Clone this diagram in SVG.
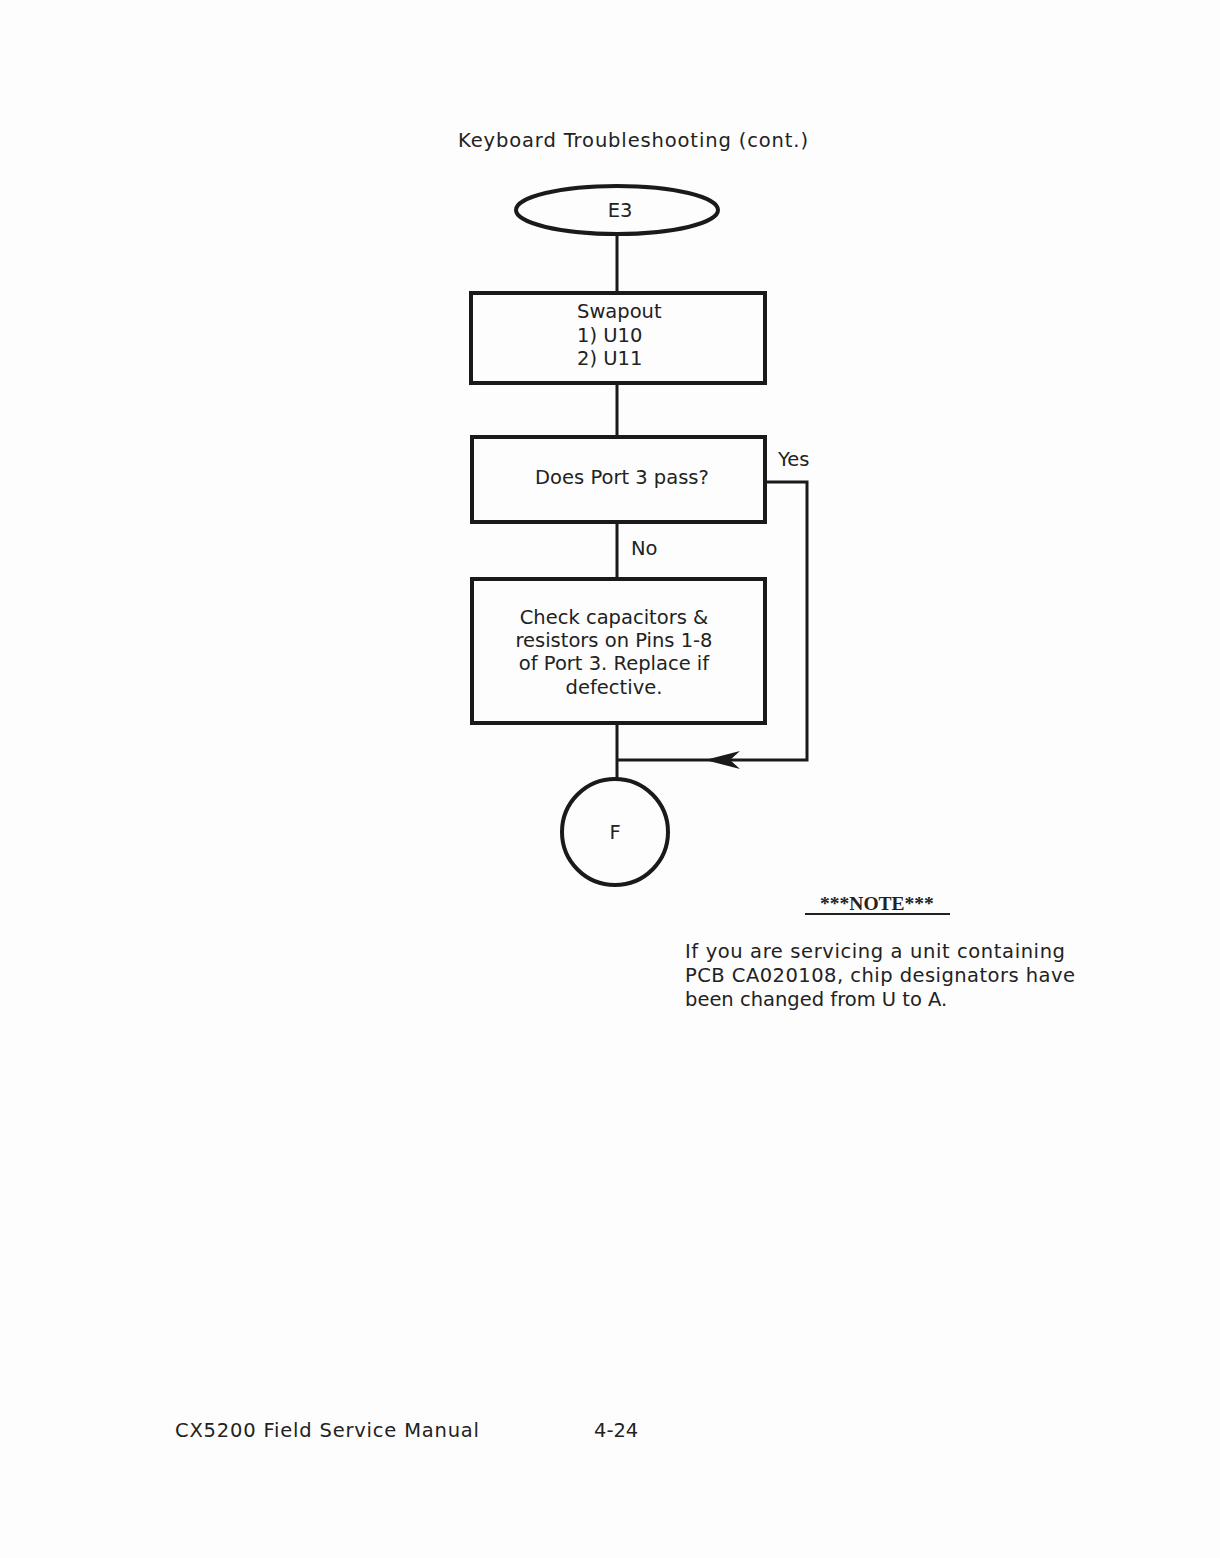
<svg xmlns="http://www.w3.org/2000/svg" width="1220" height="1558" viewBox="0 0 1220 1558">
<style>
text{font-family:"DejaVu Sans","Liberation Sans",sans-serif;font-size:19.5px;fill:#222}
.b{fill:none;stroke:#1a1a1a;stroke-width:4}
.l{fill:none;stroke:#1a1a1a;stroke-width:3}
.c{text-anchor:middle}
</style>
<rect width="1220" height="1558" fill="#fdfdfd"/>
<text x="458" y="147" textLength="350">Keyboard Troubleshooting (cont.)</text>
<g id="connectors">
<path class="l" d="M617 234V292M617 383V436M617 522V578M617 723V780"/>
<path class="l" d="M765 482H807V760H617"/>
<polygon points="705,760 740,751 730,760 740,769" fill="#1a1a1a"/>
<text x="778" y="466">Yes</text>
<text x="631" y="555">No</text>
</g>
<g id="E3"><ellipse class="b" cx="617" cy="210" rx="101" ry="24"/><text class="c" x="620" y="217">E3</text></g>
<g id="swap"><rect class="b" x="471" y="293" width="294" height="90"/>
<text x="577" y="318">Swapout</text><text x="577" y="342">1) U10</text><text x="577" y="365">2) U11</text></g>
<g id="port"><rect class="b" x="472" y="437" width="293" height="85"/><text class="c" x="622" y="484">Does Port 3 pass?</text></g>
<g id="check"><rect class="b" x="472" y="579" width="293" height="144"/>
<text class="c" x="614" y="624">Check capacitors &amp;</text><text class="c" x="614" y="647">resistors on Pins 1-8</text>
<text class="c" x="614" y="670">of Port 3.  Replace if</text><text class="c" x="614" y="694">defective.</text></g>
<g id="F"><circle class="b" cx="615" cy="832" r="53"/><text class="c" x="615" y="839">F</text></g>
<g id="note"><text class="c" x="877" y="910" style="font-family:'Liberation Serif',serif;font-weight:bold">***NOTE***</text><line x1="805" y1="914" x2="950" y2="914" stroke="#222" stroke-width="2"/>
<text x="685" y="958" textLength="380">If you are servicing a unit containing</text>
<text x="685" y="982" textLength="390">PCB CA020108, chip designators have</text>
<text x="685" y="1006">been changed from U to A.</text></g>
<text x="175" y="1437" textLength="304">CX5200 Field Service Manual</text>
<text x="594" y="1437">4-24</text>
</svg>
